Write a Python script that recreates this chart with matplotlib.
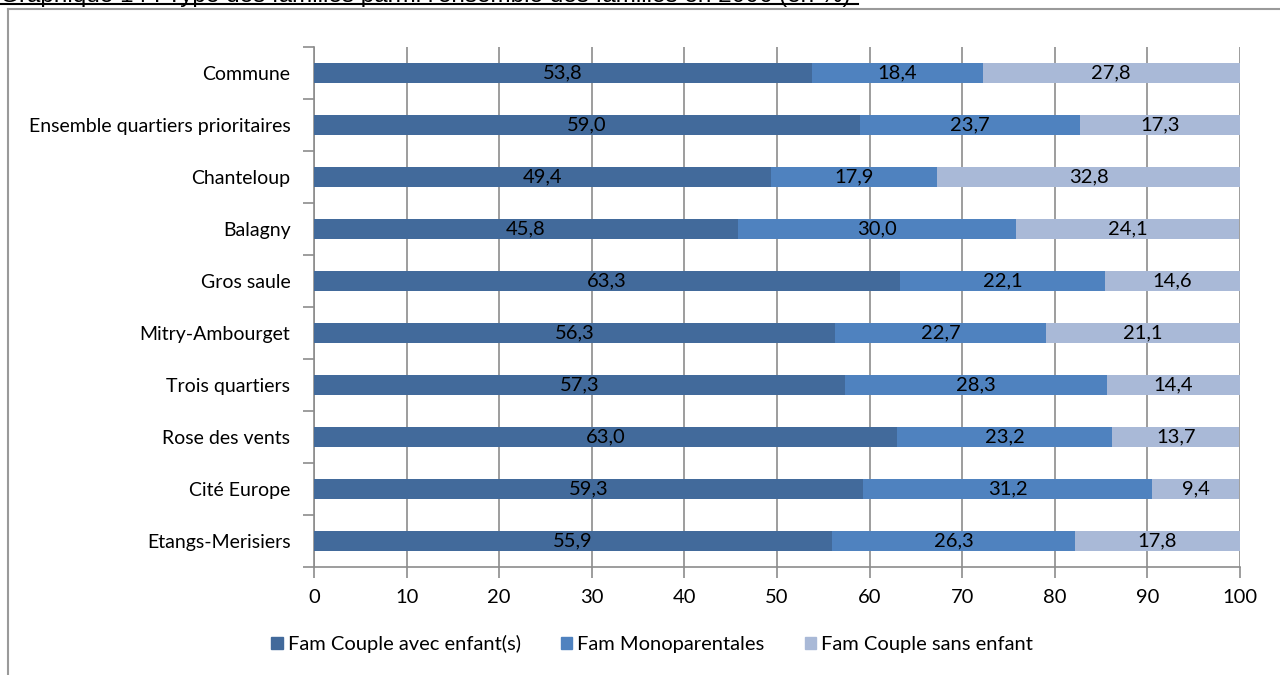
import numpy as np
import matplotlib.pyplot as plt
from matplotlib.lines import Line2D
from matplotlib.patches import Rectangle

# données (en %)
quartiers = ["Commune", "Ensemble quartiers prioritaires", "Chanteloup", "Balagny",
             "Gros saule", "Mitry-Ambourget", "Trois quartiers", "Rose des vents",
             "Cité Europe", "Etangs-Merisiers"]
couple_enfants = [53.8, 59.0, 49.4, 45.8, 63.3, 56.3, 57.3, 63.0, 59.3, 55.9]
monoparentales = [18.4, 23.7, 17.9, 30.0, 22.1, 22.7, 28.3, 23.2, 31.2, 26.3]
couple_sans = [27.8, 17.3, 32.8, 24.1, 14.6, 21.1, 14.4, 13.7, 9.4, 17.8]

series = ["Fam Couple avec enfant(s)", "Fam Monoparentales", "Fam Couple sans enfant"]
colors = ["#426A9B", "#4F82BF", "#A9B9D7"]

plt.rcParams['font.family'] = ['Lato', 'DejaVu Sans']
fs = 14.5

fig = plt.figure(figsize=(12.8, 6.75), dpi=100)
ax = fig.add_axes([314 / 1280, 1 - 567 / 675, (1240 - 314) / 1280, (567 - 47) / 675])

y = np.arange(len(quartiers))
left = np.zeros(len(quartiers))
for vals, col, name in zip([couple_enfants, monoparentales, couple_sans], colors, series):
    vals = np.array(vals)
    ax.barh(y, vals, left=left, height=0.4, color=col, label=name, zorder=3)
    for yi, l, v in zip(y, left, vals):
        ax.text(l + v / 2, yi, f"{v:.1f}".replace(".", ","), ha="center", va="center",
                fontsize=fs, color="black", zorder=4)
    left = left + vals

ax.set_xlim(0, 100)
ax.set_ylim(len(quartiers) - 0.5, -0.5)
ax.set_xticks(np.arange(0, 101, 10))
ax.set_yticks(y)
ax.set_yticklabels(quartiers)
ax.set_yticks(np.arange(-0.5, len(quartiers), 1), minor=True)
ax.tick_params(axis="y", which="major", length=0, labelsize=14, pad=17)
ax.tick_params(axis="y", which="minor", length=8, width=1.2, color="#8c8c8c", direction="out")
ax.tick_params(axis="x", length=8, width=1.2, color="#8c8c8c", labelsize=fs, pad=8)
ax.grid(axis="x", color="#8c8c8c", linewidth=1.2, zorder=0)
for s in ["top", "right"]:
    ax.spines[s].set_visible(False)
for s in ["left", "bottom"]:
    ax.spines[s].set_color("#8c8c8c")
    ax.spines[s].set_linewidth(1.2)

handles = [Rectangle((0, 0), 1, 1, color=c) for c in colors]
fig.legend(handles, series, loc="center", bbox_to_anchor=(652 / 1280, 1 - 644 / 675),
           ncol=3, frameon=False, fontsize=fs, handlelength=0.55, handleheight=0.55,
           handletextpad=0.25, columnspacing=2.0)

# cadre extérieur
fig.add_artist(Line2D([8 / 1280, 8 / 1280], [0, 1 - 9 / 675], color="#9a9a9a", lw=1.5))
fig.add_artist(Line2D([8 / 1280, 1], [1 - 9 / 675, 1 - 9 / 675], color="#9a9a9a", lw=1.5))

# titre coupé en haut (comme dans l'original)
fig.text(0, 1 - 2 / 675, "Graphique 14 : Type des familles parmi l'ensemble des familles en 2006 (en %)",
         family="Liberation Sans", fontsize=17.5, va="baseline", ha="left")
fig.add_artist(Line2D([0, 858 / 1280], [1 - 4 / 675, 1 - 4 / 675], color="black", lw=1.5))

fig.savefig("out.png", dpi=100)
